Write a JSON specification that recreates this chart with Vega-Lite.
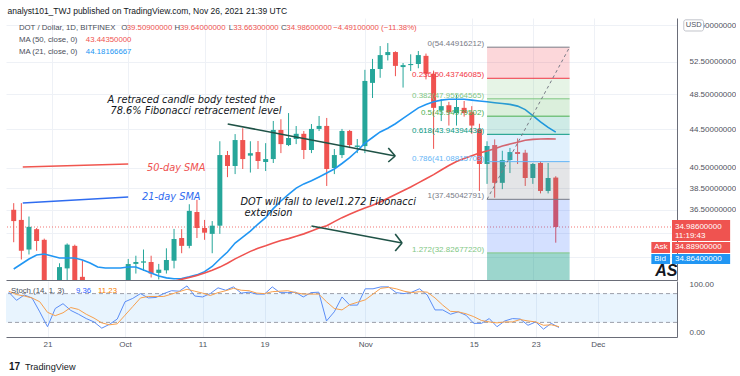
{
"$schema": "https://vega.github.io/schema/vega-lite/v6.json",
"background": "white",
"padding": {"left": 5, "top": 6, "right": 0, "bottom": 0},
"title": {"text": "analyst101_TWJ published on TradingView.com, Nov 26, 2021 21:39 UTC", "anchor": "start", "font": "Liberation Sans", "fontSize": 8.5, "fontWeight": "normal", "color": "#131722", "offset": 3, "dx": 2},
"config": {"view": {"stroke": null}, "font": "Liberation Sans", "concat": {"spacing": 0}},
"spacing": 0,
"datasets": {
"last": [{"price": 34.986}],
"candles": [
{"t":"2021-09-16","o":36.5,"h":37.1,"l":33.7,"c":35.5},
{"t":"2021-09-17","o":35.6,"h":37.1,"l":32.3,"c":33.0},
{"t":"2021-09-18","o":33.1,"h":35.9,"l":32.7,"c":35.0},
{"t":"2021-09-19","o":34.8,"h":34.9,"l":33.0,"c":33.8},
{"t":"2021-09-20","o":33.9,"h":34.0,"l":29.0,"c":29.6},
{"t":"2021-09-21","o":29.8,"h":30.5,"l":27.9,"c":28.7},
{"t":"2021-09-22","o":28.8,"h":32.0,"l":28.5,"c":31.7},
{"t":"2021-09-23","o":31.6,"h":33.6,"l":30.2,"c":33.5},
{"t":"2021-09-24","o":33.4,"h":33.5,"l":29.5,"c":30.3},
{"t":"2021-09-25","o":30.95,"h":32.2,"l":29.6,"c":30.5},
{"t":"2021-09-26","o":30.5,"h":30.6,"l":28.9,"c":29.9},
{"t":"2021-09-27","o":29.9,"h":30.5,"l":28.9,"c":29.3},
{"t":"2021-09-28","o":29.3,"h":30.0,"l":27.5,"c":27.8},
{"t":"2021-09-29","o":27.8,"h":29.3,"l":27.2,"c":28.3},
{"t":"2021-09-30","o":28.3,"h":30.5,"l":28.0,"c":29.9},
{"t":"2021-10-01","o":29.9,"h":32.34,"l":29.6,"c":31.94},
{"t":"2021-10-02","o":31.95,"h":32.6,"l":31.2,"c":32.1},
{"t":"2021-10-03","o":32.05,"h":33.1,"l":31.4,"c":32.15},
{"t":"2021-10-04","o":32.1,"h":32.6,"l":30.9,"c":31.2},
{"t":"2021-10-05","o":31.25,"h":31.95,"l":30.75,"c":31.5},
{"t":"2021-10-06","o":31.45,"h":33.2,"l":31.2,"c":32.26},
{"t":"2021-10-07","o":32.2,"h":34.82,"l":31.6,"c":33.97},
{"t":"2021-10-08","o":34.05,"h":34.8,"l":32.8,"c":33.4},
{"t":"2021-10-09","o":33.4,"h":37.0,"l":33.2,"c":36.4},
{"t":"2021-10-10","o":36.3,"h":37.4,"l":34.05,"c":34.9},
{"t":"2021-10-11","o":34.9,"h":35.6,"l":33.9,"c":34.5},
{"t":"2021-10-12","o":34.4,"h":35.5,"l":32.8,"c":35.1},
{"t":"2021-10-13","o":35.1,"h":43.2,"l":34.4,"c":41.76},
{"t":"2021-10-14","o":41.76,"h":42.18,"l":39.55,"c":40.65},
{"t":"2021-10-15","o":40.65,"h":43.97,"l":39.85,"c":43.33},
{"t":"2021-10-16","o":43.33,"h":44.6,"l":40.35,"c":41.35},
{"t":"2021-10-17","o":41.7,"h":43.2,"l":40.0,"c":41.95},
{"t":"2021-10-18","o":42.07,"h":43.23,"l":40.35,"c":41.15},
{"t":"2021-10-19","o":41.05,"h":43.0,"l":40.15,"c":41.35},
{"t":"2021-10-20","o":41.35,"h":45.41,"l":40.95,"c":44.42},
{"t":"2021-10-21","o":44.42,"h":45.6,"l":41.96,"c":42.9},
{"t":"2021-10-22","o":42.8,"h":46.3,"l":42.69,"c":43.55},
{"t":"2021-10-23","o":43.44,"h":44.85,"l":42.9,"c":44.0},
{"t":"2021-10-24","o":44.0,"h":44.3,"l":41.35,"c":42.28},
{"t":"2021-10-25","o":42.28,"h":45.07,"l":41.96,"c":44.53},
{"t":"2021-10-26","o":44.53,"h":45.97,"l":44.3,"c":44.86},
{"t":"2021-10-27","o":44.86,"h":45.75,"l":38.7,"c":40.35},
{"t":"2021-10-28","o":40.45,"h":42.38,"l":39.85,"c":41.76},
{"t":"2021-10-29","o":41.76,"h":44.53,"l":41.45,"c":44.31},
{"t":"2021-10-30","o":44.31,"h":44.42,"l":42.48,"c":42.8},
{"t":"2021-10-31","o":42.6,"h":43.44,"l":41.96,"c":42.75},
{"t":"2021-11-01","o":42.69,"h":51.5,"l":41.96,"c":50.11},
{"t":"2021-11-02","o":49.87,"h":52.9,"l":48.05,"c":51.6},
{"t":"2021-11-03","o":51.6,"h":54.6,"l":50.5,"c":53.4},
{"t":"2021-11-04","o":53.4,"h":55.0,"l":52.7,"c":53.8},
{"t":"2021-11-05","o":53.8,"h":53.9,"l":50.7,"c":52.0},
{"t":"2021-11-06","o":51.85,"h":52.37,"l":49.3,"c":52.1},
{"t":"2021-11-07","o":52.1,"h":53.5,"l":51.35,"c":52.24},
{"t":"2021-11-08","o":52.24,"h":53.94,"l":51.7,"c":53.4},
{"t":"2021-11-09","o":53.3,"h":53.6,"l":50.3,"c":51.0},
{"t":"2021-11-10","o":51.0,"h":51.4,"l":42.4,"c":46.9},
{"t":"2021-11-11","o":46.6,"h":47.9,"l":45.4,"c":47.1},
{"t":"2021-11-12","o":47.2,"h":47.6,"l":44.9,"c":46.4},
{"t":"2021-11-13","o":46.3,"h":48.4,"l":44.9,"c":47.0},
{"t":"2021-11-14","o":46.9,"h":47.7,"l":45.9,"c":46.3},
{"t":"2021-11-15","o":46.4,"h":47.1,"l":44.0,"c":44.9},
{"t":"2021-11-16","o":44.5,"h":45.1,"l":38.23,"c":40.85},
{"t":"2021-11-17","o":40.85,"h":43.2,"l":38.9,"c":42.7},
{"t":"2021-11-18","o":42.8,"h":43.4,"l":37.6,"c":39.0},
{"t":"2021-11-19","o":39.0,"h":42.2,"l":38.4,"c":41.25},
{"t":"2021-11-20","o":41.25,"h":42.5,"l":39.95,"c":42.07},
{"t":"2021-11-21","o":42.07,"h":43.5,"l":40.85,"c":41.86},
{"t":"2021-11-22","o":42.0,"h":42.3,"l":38.7,"c":39.47},
{"t":"2021-11-23","o":39.47,"h":40.95,"l":38.9,"c":40.85},
{"t":"2021-11-24","o":40.95,"h":41.15,"l":38.0,"c":38.23},
{"t":"2021-11-25","o":38.23,"h":40.95,"l":38.0,"c":39.47},
{"t":"2021-11-26","o":39.509,"h":39.64,"l":33.663,"c":34.986}
],
"ma": [
{"t":"2021-09-16","ma21":31.55,"ma50":28.2},
{"t":"2021-09-17","ma21":31.94,"ma50":28.3},
{"t":"2021-09-18","ma21":32.34,"ma50":28.4},
{"t":"2021-09-19","ma21":32.66,"ma50":28.5},
{"t":"2021-09-20","ma21":32.74,"ma50":28.6},
{"t":"2021-09-21","ma21":32.58,"ma50":28.7},
{"t":"2021-09-22","ma21":32.42,"ma50":28.8},
{"t":"2021-09-23","ma21":32.42,"ma50":28.9},
{"t":"2021-09-24","ma21":32.42,"ma50":29.0},
{"t":"2021-09-25","ma21":32.26,"ma50":29.1},
{"t":"2021-09-26","ma21":32.02,"ma50":29.2},
{"t":"2021-09-27","ma21":31.71,"ma50":29.3},
{"t":"2021-09-28","ma21":31.63,"ma50":29.4},
{"t":"2021-09-29","ma21":31.63,"ma50":29.5},
{"t":"2021-09-30","ma21":31.63,"ma50":29.6},
{"t":"2021-10-01","ma21":31.71,"ma50":29.7},
{"t":"2021-10-02","ma21":31.71,"ma50":29.85},
{"t":"2021-10-03","ma21":31.48,"ma50":30.0},
{"t":"2021-10-04","ma21":31.25,"ma50":30.15},
{"t":"2021-10-05","ma21":31.02,"ma50":30.3},
{"t":"2021-10-06","ma21":30.87,"ma50":30.45},
{"t":"2021-10-07","ma21":30.8,"ma50":30.62},
{"t":"2021-10-08","ma21":30.82,"ma50":30.76},
{"t":"2021-10-09","ma21":30.95,"ma50":30.9},
{"t":"2021-10-10","ma21":31.1,"ma50":31.05},
{"t":"2021-10-11","ma21":31.35,"ma50":31.25},
{"t":"2021-10-12","ma21":31.75,"ma50":31.45},
{"t":"2021-10-13","ma21":32.34,"ma50":31.7},
{"t":"2021-10-14","ma21":32.9,"ma50":32.0},
{"t":"2021-10-15","ma21":33.63,"ma50":32.35},
{"t":"2021-10-16","ma21":34.13,"ma50":32.65},
{"t":"2021-10-17","ma21":34.64,"ma50":32.95},
{"t":"2021-10-18","ma21":35.24,"ma50":33.2},
{"t":"2021-10-19","ma21":35.8,"ma50":33.4},
{"t":"2021-10-20","ma21":36.6,"ma50":33.63},
{"t":"2021-10-21","ma21":37.3,"ma50":33.85},
{"t":"2021-10-22","ma21":37.9,"ma50":34.0},
{"t":"2021-10-23","ma21":38.5,"ma50":34.2},
{"t":"2021-10-24","ma21":38.9,"ma50":34.4},
{"t":"2021-10-25","ma21":39.2,"ma50":34.65},
{"t":"2021-10-26","ma21":39.57,"ma50":34.9},
{"t":"2021-10-27","ma21":39.95,"ma50":35.1},
{"t":"2021-10-28","ma21":40.35,"ma50":35.45},
{"t":"2021-10-29","ma21":40.9,"ma50":35.8},
{"t":"2021-10-30","ma21":41.5,"ma50":36.1},
{"t":"2021-10-31","ma21":42.2,"ma50":36.4},
{"t":"2021-11-01","ma21":43.0,"ma50":36.67},
{"t":"2021-11-02","ma21":43.6,"ma50":36.9},
{"t":"2021-11-03","ma21":44.2,"ma50":37.2},
{"t":"2021-11-04","ma21":44.6,"ma50":37.55},
{"t":"2021-11-05","ma21":45.1,"ma50":37.9},
{"t":"2021-11-06","ma21":45.7,"ma50":38.25},
{"t":"2021-11-07","ma21":46.3,"ma50":38.6},
{"t":"2021-11-08","ma21":46.9,"ma50":39.0},
{"t":"2021-11-09","ma21":47.3,"ma50":39.4},
{"t":"2021-11-10","ma21":47.6,"ma50":39.8},
{"t":"2021-11-11","ma21":47.8,"ma50":40.25},
{"t":"2021-11-12","ma21":47.9,"ma50":40.7},
{"t":"2021-11-13","ma21":47.9,"ma50":41.1},
{"t":"2021-11-14","ma21":47.9,"ma50":41.4},
{"t":"2021-11-15","ma21":47.8,"ma50":41.7},
{"t":"2021-11-16","ma21":47.7,"ma50":41.96},
{"t":"2021-11-17","ma21":47.6,"ma50":42.18},
{"t":"2021-11-18","ma21":47.5,"ma50":42.4},
{"t":"2021-11-19","ma21":47.4,"ma50":42.7},
{"t":"2021-11-20","ma21":47.3,"ma50":42.9},
{"t":"2021-11-21","ma21":47.1,"ma50":43.1},
{"t":"2021-11-22","ma21":46.7,"ma50":43.3},
{"t":"2021-11-23","ma21":46.0,"ma50":43.4},
{"t":"2021-11-24","ma21":45.3,"ma50":43.44},
{"t":"2021-11-25","ma21":44.7,"ma50":43.45},
{"t":"2021-11-26","ma21":44.18166667,"ma50":43.4435}
],
"fib": [
{"lvl":"0","price":54.44916212,"next":50.43746085,"lab":"0(54.44916212)","t1":"2021-11-17","t2":"2021-11-27T19:30:00Z"},
{"lvl":"0.236","price":50.43746085,"next":47.95564565,"lab":"0.236(50.43746085)","t1":"2021-11-17","t2":"2021-11-27T19:30:00Z"},
{"lvl":"0.382","price":47.95564565,"next":45.94979502,"lab":"0.382(47.95564565)","t1":"2021-11-17","t2":"2021-11-27T19:30:00Z"},
{"lvl":"0.5","price":45.94979502,"next":43.94394438,"lab":"0.5(45.94979502)","t1":"2021-11-17","t2":"2021-11-27T19:30:00Z"},
{"lvl":"0.618","price":43.94394438,"next":41.08815703,"lab":"0.618(43.94394438)","t1":"2021-11-17","t2":"2021-11-27T19:30:00Z"},
{"lvl":"0.786","price":41.08815703,"next":37.45042791,"lab":"0.786(41.08815703)","t1":"2021-11-17","t2":"2021-11-27T19:30:00Z"},
{"lvl":"1","price":37.45042791,"next":32.8267722,"lab":"1(37.45042791)","t1":"2021-11-17","t2":"2021-11-27T19:30:00Z"},
{"lvl":"1.272","price":32.8267722,"next":30.41,"lab":"1.272(32.82677220)","t1":"2021-11-17","t2":"2021-11-27T19:30:00Z"}
],
"fibdiag": [{"t":"2021-11-17","p":37.45042791},{"t":"2021-11-27T19:30:00Z","p":54.44916212}],
"segs": [
{"kind":"arrow","t1":"2021-10-14T00:45:00Z","p1":45.08,"t2":"2021-11-04T23:15:00Z","p2":41.66},
{"kind":"arrow","t1":"2021-11-04T01:30:00Z","p1":42.49,"t2":"2021-11-04T23:15:00Z","p2":41.66},
{"kind":"arrow","t1":"2021-11-04T01:30:00Z","p1":41.05,"t2":"2021-11-04T23:15:00Z","p2":41.66},
{"kind":"arrow","t1":"2021-10-25T00:00:00Z","p1":35.07,"t2":"2021-11-05T20:55:00Z","p2":33.64},
{"kind":"arrow","t1":"2021-11-04T23:15:00Z","p1":34.39,"t2":"2021-11-05T20:55:00Z","p2":33.64},
{"kind":"arrow","t1":"2021-11-04T23:15:00Z","p1":32.98,"t2":"2021-11-05T20:55:00Z","p2":33.64},
{"kind":"ma50","t1":"2021-09-17T04:30:00Z","p1":40.55,"t2":"2021-10-01T00:00:00Z","p2":40.85},
{"kind":"ma21","t1":"2021-09-17T04:30:00Z","p1":37.11,"t2":"2021-10-01T00:00:00Z","p2":37.67}
],
"notes": [
{"txt":"A retraced candle body tested the","t":"2021-09-28T07:00:00Z","p":47.82,"kind":"note"},
{"txt":"78.6% Fibonacci retracement level","t":"2021-09-28T16:20:00Z","p":46.54,"kind":"note"},
{"txt":"DOT will fall to  level1.272 Fibonacci","t":"2021-10-15T17:00:00Z","p":37.2,"kind":"note"},
{"txt":"extension","t":"2021-10-16T05:30:00Z","p":36.21,"kind":"note"},
{"txt":"50-day SMA","t":"2021-10-03T10:50:00Z","p":40.45,"kind":"ma50"},
{"txt":"21-day SMA","t":"2021-10-02T19:25:00Z","p":37.67,"kind":"ma21"}
],
"legend": [
{"txt":"DOT / Dollar, 1D, BITFINEX","t":"2021-09-16T16:20:00Z","p":57.08,"kind":"label"},
{"txt":"O","t":"2021-09-30T02:20:00Z","p":57.08,"kind":"label"},
{"txt":"39.50900000","t":"2021-09-30T19:20:00Z","p":57.08,"kind":"down"},
{"txt":"H","t":"2021-10-07T01:30:00Z","p":57.08,"kind":"label"},
{"txt":"39.64000000","t":"2021-10-07T18:35:00Z","p":57.08,"kind":"down"},
{"txt":"L","t":"2021-10-14T03:50:00Z","p":57.08,"kind":"label"},
{"txt":"33.66300000","t":"2021-10-14T17:50:00Z","p":57.08,"kind":"down"},
{"txt":"C","t":"2021-10-21T00:00:00Z","p":57.08,"kind":"label"},
{"txt":"34.98600000","t":"2021-10-21T17:00:00Z","p":57.08,"kind":"down"},
{"txt":"−4.49100000 (−11.38%)","t":"2021-10-27T20:10:00Z","p":57.08,"kind":"down"},
{"txt":"MA (50, close, 0)","t":"2021-09-16T16:20:00Z","p":55.42,"kind":"label"},
{"txt":"43.44350000","t":"2021-09-25T10:50:00Z","p":55.42,"kind":"ma50"},
{"txt":"MA (21, close, 0)","t":"2021-09-16T16:20:00Z","p":53.81,"kind":"label"},
{"txt":"44.18166667","t":"2021-09-25T10:50:00Z","p":53.81,"kind":"ma21"}
],
"boxes": [
{"side":"sell","t1":"2021-12-11T05:25:00Z","t2":"2021-12-18T20:10:00Z","p1":35.59,"p2":33.8},
{"side":"sell","t1":"2021-12-08T12:30:00Z","t2":"2021-12-10T23:15:00Z","p1":33.72,"p2":32.82},
{"side":"sell","t1":"2021-12-11T05:25:00Z","t2":"2021-12-18T20:10:00Z","p1":33.72,"p2":32.82},
{"side":"buy","t1":"2021-12-08T12:30:00Z","t2":"2021-12-10T23:15:00Z","p1":32.74,"p2":31.94},
{"side":"buy","t1":"2021-12-11T05:25:00Z","t2":"2021-12-18T20:10:00Z","p1":32.74,"p2":31.94}
],
"boxtext": [
{"txt":"34.98600000","t":"2021-12-11T14:40:00Z","p":34.986},
{"txt":"11:19:43","t":"2021-12-11T14:40:00Z","p":34.22},
{"txt":"Ask","t":"2021-12-08T21:40:00Z","p":33.27},
{"txt":"34.88900000","t":"2021-12-11T14:40:00Z","p":33.27},
{"txt":"Bid","t":"2021-12-08T21:40:00Z","p":32.34},
{"txt":"34.86400000","t":"2021-12-11T14:40:00Z","p":32.34}
],
"usd": [{"t1":"2021-12-12T18:30:00Z","t2":"2021-12-15T08:25:00Z","p1":58.24,"p2":56.66,"t":"2021-12-14T01:30:00Z","p":57.45,"txt":"USD"}],
"as": [{"txt":"AS","t":"2021-12-09T00:45:00Z","p":31.4}],
"stochBand": [{"lo":20,"hi":80}],
"stoch": [
{"t":"2021-09-16","k":83,"d":85},
{"t":"2021-09-17","k":66,"d":78},
{"t":"2021-09-18","k":77,"d":75},
{"t":"2021-09-19","k":71,"d":71},
{"t":"2021-09-20","k":42,"d":63},
{"t":"2021-09-21","k":11,"d":41},
{"t":"2021-09-22","k":49,"d":34},
{"t":"2021-09-23","k":59,"d":40},
{"t":"2021-09-24","k":45,"d":51},
{"t":"2021-09-25","k":37,"d":47},
{"t":"2021-09-26","k":28,"d":37},
{"t":"2021-09-27","k":21,"d":29},
{"t":"2021-09-28","k":8,"d":19},
{"t":"2021-09-29","k":16,"d":15},
{"t":"2021-09-30","k":27,"d":17},
{"t":"2021-10-01","k":63,"d":35},
{"t":"2021-10-02","k":70,"d":53},
{"t":"2021-10-03","k":80,"d":71},
{"t":"2021-10-04","k":71,"d":74},
{"t":"2021-10-05","k":72,"d":74},
{"t":"2021-10-06","k":80,"d":74},
{"t":"2021-10-07","k":86,"d":79},
{"t":"2021-10-08","k":85,"d":84},
{"t":"2021-10-09","k":96,"d":89},
{"t":"2021-10-10","k":75,"d":85},
{"t":"2021-10-11","k":73,"d":81},
{"t":"2021-10-12","k":80,"d":76},
{"t":"2021-10-13","k":92,"d":82},
{"t":"2021-10-14","k":87,"d":86},
{"t":"2021-10-15","k":94,"d":91},
{"t":"2021-10-16","k":81,"d":87},
{"t":"2021-10-17","k":83,"d":86},
{"t":"2021-10-18","k":79,"d":81},
{"t":"2021-10-19","k":79,"d":80},
{"t":"2021-10-20","k":94,"d":84},
{"t":"2021-10-21","k":82,"d":85},
{"t":"2021-10-22","k":82,"d":86},
{"t":"2021-10-23","k":83,"d":82},
{"t":"2021-10-24","k":73,"d":79},
{"t":"2021-10-25","k":82,"d":79},
{"t":"2021-10-26","k":83,"d":79},
{"t":"2021-10-27","k":23,"d":63},
{"t":"2021-10-28","k":42,"d":49},
{"t":"2021-10-29","k":73,"d":46},
{"t":"2021-10-30","k":56,"d":57},
{"t":"2021-10-31","k":56,"d":62},
{"t":"2021-11-01","k":90,"d":67},
{"t":"2021-11-02","k":90,"d":79},
{"t":"2021-11-03","k":94,"d":91},
{"t":"2021-11-04","k":94,"d":93},
{"t":"2021-11-05","k":82,"d":90},
{"t":"2021-11-06","k":80,"d":85},
{"t":"2021-11-07","k":83,"d":82},
{"t":"2021-11-08","k":90,"d":84},
{"t":"2021-11-09","k":77,"d":83},
{"t":"2021-11-10","k":46,"d":71},
{"t":"2021-11-11","k":46,"d":56},
{"t":"2021-11-12","k":37,"d":43},
{"t":"2021-11-13","k":42,"d":42},
{"t":"2021-11-14","k":35,"d":38},
{"t":"2021-11-15","k":18,"d":32},
{"t":"2021-11-16","k":18,"d":24},
{"t":"2021-11-17","k":28,"d":21},
{"t":"2021-11-18","k":11,"d":19},
{"t":"2021-11-19","k":23,"d":21},
{"t":"2021-11-20","k":28,"d":21},
{"t":"2021-11-21","k":27,"d":26},
{"t":"2021-11-22","k":14,"d":23},
{"t":"2021-11-23","k":21,"d":21},
{"t":"2021-11-24","k":6,"d":14},
{"t":"2021-11-25","k":18,"d":15},
{"t":"2021-11-26","k":9.36,"d":11.23}
],
"stochLegend": [
{"txt":"Stoch (14, 1, 3)","t":"2021-09-16T07:00:00Z","v":85.4,"kind":"label"},
{"txt":"9.36","t":"2021-09-24T16:20:00Z","v":85.4,"kind":"k"},
{"txt":"11.23","t":"2021-09-27T12:30:00Z","v":85.4,"kind":"d"}
],
"footer": [{"txt":"TradingView","t":"2021-09-18T02:25:00Z","v":-72.9}],
"logo": [{"txt":"17","t":"2021-09-16T00:45:00Z","v":-72.9}]
},
"vconcat": [
{
"width": 671, "height": 262,
"resolve": {"scale": {"color": "independent", "fill": "independent"}},
"layer": [
{"data": {"name": "last"}, "mark": {"type": "rule", "color": "#ef5350", "strokeDash": [1, 2], "strokeWidth": 1, "opacity": 0.8},
 "encoding": {"y": {"field": "price", "type": "quantitative", "scale": {"type": "log", "domain": [30.71, 58.5], "nice": false, "zero": false},
  "axis": {"orient": "right", "title": null, "values": [57.5, 52.5, 48.5, 44.5, 40.5, 38.5, 36.5, 34.5, 32.5], "format": ".8f",
   "labelExpr": "datum.value < 35 ? '' : format(datum.value, '.8f')",
   "labelFont": "Liberation Sans", "labelFontSize": 8, "labelColor": "#50535e", "ticks": false, "labelPadding": 12, "domainColor": "#6a6d78", "grid": true, "gridColor": "#eef1f6"}}}},
{"data": {"name": "candles"}, "mark": {"type": "rule", "strokeWidth": 1, "clip": true},
 "encoding": {"x": {"field": "t", "type": "temporal", "scale": {"type": "utc", "domain": [1631719728000, 1639200326000]},
   "axis": {"orient": "bottom", "title": null, "values": [1632182400000, 1633046400000, 1633910400000, 1634601600000, 1635724800000, 1636934400000, 1637625600000, 1638316800000], "labels": false, "ticks": false, "grid": true, "gridColor": "#eef1f6", "domainColor": "#6a6d78"}},
  "y": {"field": "l", "type": "quantitative"}, "y2": {"field": "h"},
  "color": {"condition": {"test": "datum.c >= datum.o", "value": "#26a69a"}, "value": "#ef5350"}}},
{"data": {"name": "candles"}, "mark": {"type": "bar", "width": 5, "clip": true},
 "encoding": {"x": {"field": "t", "type": "temporal"}, "y": {"field": "o", "type": "quantitative"}, "y2": {"field": "c"},
  "color": {"condition": {"test": "datum.c >= datum.o", "value": "#26a69a"}, "value": "#ef5350"}}},
{"data": {"name": "ma"}, "mark": {"type": "line", "color": "#2196f3", "strokeWidth": 1.6, "clip": true},
 "encoding": {"x": {"field": "t", "type": "temporal"}, "y": {"field": "ma21", "type": "quantitative"}}},
{"data": {"name": "ma"}, "mark": {"type": "line", "color": "#ef5350", "strokeWidth": 1.6, "clip": true},
 "encoding": {"x": {"field": "t", "type": "temporal"}, "y": {"field": "ma50", "type": "quantitative"}}},
{"data": {"name": "fib"}, "mark": {"type": "rect", "clip": true},
 "encoding": {"x": {"field": "t1", "type": "temporal"}, "x2": {"field": "t2"}, "y": {"field": "price", "type": "quantitative"}, "y2": {"field": "next"},
  "fill": {"field": "lvl", "type": "nominal", "legend": null, "scale": {"domain": ["0","0.236","0.382","0.5","0.618","0.786","1","1.272"], "range": ["#f23645","#81c784","#4caf50","#089981","#64b5f6","#787b86","#2962ff","#089981"]}},
  "opacity": {"condition": {"test": "datum.lvl === '1.272'", "value": 0.4}, "value": 0.2}}},
{"data": {"name": "fib"}, "mark": {"type": "rule", "strokeWidth": 1, "clip": true},
 "encoding": {"x": {"field": "t1", "type": "temporal"}, "x2": {"field": "t2"}, "y": {"field": "price", "type": "quantitative"},
  "color": {"field": "lvl", "type": "nominal", "legend": null, "scale": {"domain": ["0","0.236","0.382","0.5","0.618","0.786","1","1.272"], "range": ["#787b86","#f23645","#81c784","#4caf50","#089981","#64b5f6","#787b86","#81c784"]}}}},
{"data": {"name": "fib"}, "mark": {"type": "text", "align": "right", "baseline": "bottom", "dx": -3, "dy": 1, "fontSize": 8, "font": "Liberation Sans"},
 "encoding": {"x": {"field": "t1", "type": "temporal"}, "y": {"field": "price", "type": "quantitative"}, "text": {"field": "lab"},
  "color": {"field": "lvl", "type": "nominal", "legend": null, "scale": {"domain": ["0","0.236","0.382","0.5","0.618","0.786","1","1.272"], "range": ["#787b86","#f23645","#81c784","#4caf50","#089981","#64b5f6","#787b86","#81c784"]}}}},
{"data": {"name": "fibdiag"}, "mark": {"type": "line", "color": "#787b86", "strokeDash": [3, 3], "strokeWidth": 1},
 "encoding": {"x": {"field": "t", "type": "temporal"}, "y": {"field": "p", "type": "quantitative"}}},
{"data": {"name": "segs"}, "mark": {"type": "rule", "strokeWidth": 1.6},
 "encoding": {"x": {"field": "t1", "type": "temporal"}, "x2": {"field": "t2"}, "y": {"field": "p1", "type": "quantitative"}, "y2": {"field": "p2"},
  "color": {"field": "kind", "type": "nominal", "legend": null, "scale": {"domain": ["arrow","ma50","ma21"], "range": ["#1f5246","#f0564f","#2f6cf0"]}}}},
{"data": {"name": "notes"}, "mark": {"type": "text", "align": "left", "baseline": "middle", "font": "DejaVu Sans", "fontStyle": "italic", "fontSize": 9.8},
 "encoding": {"x": {"field": "t", "type": "temporal"}, "y": {"field": "p", "type": "quantitative"}, "text": {"field": "txt"},
  "color": {"field": "kind", "type": "nominal", "legend": null, "scale": {"domain": ["note","ma50","ma21"], "range": ["#131722","#ef5350","#2f6cf0"]}}}},
{"data": {"name": "legend"}, "mark": {"type": "text", "align": "left", "baseline": "middle", "font": "Liberation Sans", "fontSize": 7.8},
 "encoding": {"x": {"field": "t", "type": "temporal"}, "y": {"field": "p", "type": "quantitative"}, "text": {"field": "txt"},
  "color": {"field": "kind", "type": "nominal", "legend": null, "scale": {"domain": ["label","down","ma50","ma21"], "range": ["#4a4e59","#ef5350","#ef5350","#2196f3"]}}}},
{"data": {"name": "boxes"}, "mark": {"type": "rect"},
 "encoding": {"x": {"field": "t1", "type": "temporal"}, "x2": {"field": "t2"}, "y": {"field": "p1", "type": "quantitative"}, "y2": {"field": "p2"},
  "fill": {"field": "side", "type": "nominal", "legend": null, "scale": {"domain": ["sell","buy"], "range": ["#ef5350","#2196f3"]}}}},
{"data": {"name": "boxtext"}, "mark": {"type": "text", "align": "left", "baseline": "middle", "font": "Liberation Sans", "fontSize": 8, "color": "white"},
 "encoding": {"x": {"field": "t", "type": "temporal"}, "y": {"field": "p", "type": "quantitative"}, "text": {"field": "txt"}}},
{"data": {"name": "usd"}, "mark": {"type": "rect", "fill": "white", "stroke": "#b2b5be", "strokeWidth": 0.8, "cornerRadius": 2},
 "encoding": {"x": {"field": "t1", "type": "temporal"}, "x2": {"field": "t2"}, "y": {"field": "p1", "type": "quantitative"}, "y2": {"field": "p2"}}},
{"data": {"name": "usd"}, "mark": {"type": "text", "align": "center", "baseline": "middle", "font": "Liberation Sans", "fontSize": 7.5, "color": "#50535e"},
 "encoding": {"x": {"field": "t", "type": "temporal"}, "y": {"field": "p", "type": "quantitative"}, "text": {"field": "txt"}}},
{"data": {"name": "as"}, "mark": {"type": "text", "align": "left", "baseline": "middle", "font": "Liberation Sans", "fontSize": 16, "fontWeight": "bold", "fontStyle": "italic", "color": "#131722", "clip": true},
 "encoding": {"x": {"field": "t", "type": "temporal"}, "y": {"field": "p", "type": "quantitative"}, "text": {"field": "txt"}}}
]
},
{
"width": 671, "height": 56,
"resolve": {"scale": {"color": "independent"}},
"layer": [
{"data": {"name": "stochBand"}, "mark": {"type": "rect", "color": "#2196f3", "opacity": 0.1},
 "encoding": {"y": {"field": "lo", "type": "quantitative", "scale": {"domain": [-10.4, 106.25], "nice": false, "zero": false},
   "axis": {"orient": "right", "title": null, "values": [100, 50, 0], "format": ".2f", "labelFont": "Liberation Sans", "labelFontSize": 8, "labelColor": "#50535e", "ticks": false, "labelPadding": 12, "domainColor": "#6a6d78", "grid": false}},
  "y2": {"field": "hi"}}},
{"data": {"name": "stochBand"}, "mark": {"type": "rule", "color": "#787b86", "strokeDash": [4, 3], "strokeWidth": 1, "opacity": 0.7},
 "encoding": {"y": {"field": "lo", "type": "quantitative"}}},
{"data": {"name": "stochBand"}, "mark": {"type": "rule", "color": "#787b86", "strokeDash": [4, 3], "strokeWidth": 1, "opacity": 0.7},
 "encoding": {"y": {"field": "hi", "type": "quantitative"}}},
{"data": {"name": "stoch"}, "mark": {"type": "line", "color": "#5b8df6", "strokeWidth": 1},
 "encoding": {"x": {"field": "t", "type": "temporal", "scale": {"type": "utc", "domain": [1631719728000, 1639200326000]},
   "axis": {"orient": "bottom", "title": null, "values": [1632182400000, 1633046400000, 1633910400000, 1634601600000, 1635724800000, 1636934400000, 1637625600000, 1638316800000],
    "labelExpr": "utcdate(datum.value) == 1 ? utcFormat(datum.value, '%b') : utcFormat(datum.value, '%-d')",
    "labelFont": "Liberation Sans", "labelFontSize": 8, "labelColor": "#50535e", "ticks": false, "labelPadding": 3, "grid": true, "gridColor": "#eef1f6", "domainColor": "#6a6d78"}},
  "y": {"field": "k", "type": "quantitative"}}},
{"data": {"name": "stoch"}, "mark": {"type": "line", "color": "#f7a04e", "strokeWidth": 1},
 "encoding": {"x": {"field": "t", "type": "temporal"}, "y": {"field": "d", "type": "quantitative"}}},
{"data": {"name": "stochLegend"}, "mark": {"type": "text", "align": "left", "baseline": "middle", "font": "Liberation Sans", "fontSize": 7.8},
 "encoding": {"x": {"field": "t", "type": "temporal"}, "y": {"field": "v", "type": "quantitative"}, "text": {"field": "txt"},
  "color": {"field": "kind", "type": "nominal", "legend": null, "scale": {"domain": ["label","k","d"], "range": ["#4a4e59","#2962ff","#f57c00"]}}}},
{"data": {"name": "footer"}, "mark": {"type": "text", "align": "left", "baseline": "middle", "font": "Liberation Sans", "fontSize": 9.2, "color": "#131722"},
 "encoding": {"x": {"field": "t", "type": "temporal"}, "y": {"field": "v", "type": "quantitative"}, "text": {"field": "txt"}}},
{"data": {"name": "logo"}, "mark": {"type": "text", "align": "left", "baseline": "middle", "font": "Liberation Sans", "fontSize": 10, "fontWeight": "bold", "color": "#131722"},
 "encoding": {"x": {"field": "t", "type": "temporal"}, "y": {"field": "v", "type": "quantitative"}, "text": {"field": "txt"}}}
]
}
]
}
